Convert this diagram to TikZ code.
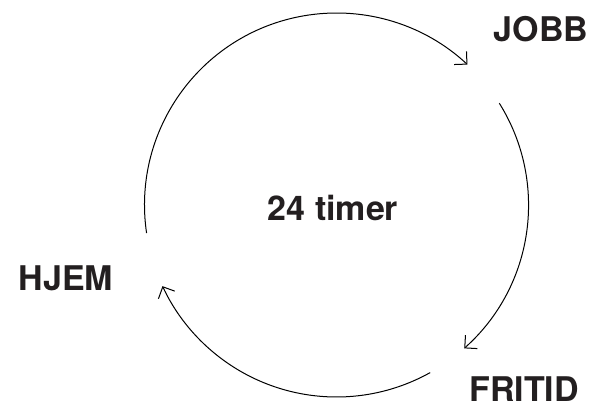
\documentclass[tikz,border=0pt]{standalone}
\usepackage{fontspec}
\setmainfont{TeX Gyre Heros}
\usepackage{tikz}
\usetikzlibrary{arrows.meta, positioning, calc}
\definecolor{ink}{RGB}{35,31,32}
\tikzset{
  every picture/.style={line width=1pt},
  lbl/.style={font=\fontsize{34}{34}\selectfont\bfseries, text=ink, inner sep=0pt, anchor=base},
  cyc/.style={-{Straight Barb[length=9pt, width=18pt, line width=1pt]}}
}

\begin{document}
\begin{tikzpicture}[x=1pt, y=1pt]
    \useasboundingbox (0,0) rectangle (604,417);
    \coordinate (c) at (336.5,212);

    \node [lbl] (jobb) at (541,375) {JOBB};
    \node [lbl] (fritid) at (524,16) {FRITID};
    \node [lbl] (hjem) at (66,126) {HJEM};
    \node [lbl] (timer) at (333,196) {24 timer};

    \coordinate (s1) at ($(c)+(188.4:192)$);
    \coordinate (s2) at ($(c)+(32:192)$);
    \coordinate (s3) at ($(c)+(-60.8:192)$);

    \draw[cyc] (s1) arc[start angle=188.4, end angle=47, radius=192];
    \draw[cyc] (s2) arc[start angle=32, end angle=-48.3, radius=192];
    \draw[cyc] (s3) arc[start angle=-60.8, end angle=-155, radius=192];
\end{tikzpicture}
\end{document}
